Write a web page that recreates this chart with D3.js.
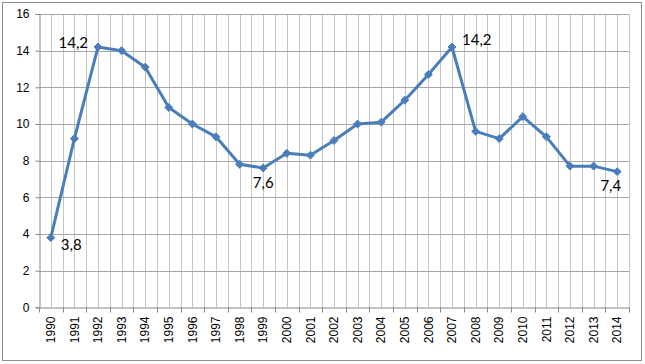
<!DOCTYPE html>
<html><head><meta charset="utf-8">
<script src="https://cdn.jsdelivr.net/npm/d3@7"></script>
<style>body{margin:0;background:#fff}svg{display:block}</style>
</head><body>
<script>
const years = ["1990","1991","1992","1993","1994","1995","1996","1997","1998","1999","2000","2001","2002","2003","2004","2005","2006","2007","2008","2009","2010","2011","2012","2013","2014"];
const values = [3.8,9.2,14.2,14.0,13.1,10.9,10.0,9.3,7.8,7.6,8.4,8.3,9.1,10.0,10.1,11.3,12.7,14.2,9.6,9.2,10.4,9.3,7.7,7.7,7.4];
const yTicks = [0,2,4,6,8,10,12,14,16];
const labeled = [
  {year:"1990", text:"3,8", pos:"br"},
  {year:"1992", text:"14,2", pos:"l"},
  {year:"1999", text:"7,6", pos:"b"},
  {year:"2007", text:"14,2", pos:"r"},
  {year:"2014", text:"7,4", pos:"bl"}
];

const W=645,H=364;
const L=39,R=629,T=14,B=307.3;
const svg=d3.select("body").append("svg").attr("width",W).attr("height",H);
svg.append("rect").attr("x",2.5).attr("y",2.5).attr("width",639).attr("height",358)
  .attr("fill","#fff").attr("stroke","#8c8c8c").attr("stroke-width",1);

const x=d3.scaleBand().domain(years).range([L,R]);
const y=d3.scaleLinear().domain([0,16]).range([B,T]);
const bw=x.bandwidth();

const g=svg.append("g");
const vx=[];
years.forEach(yr=>{vx.push(x(yr)); vx.push(x(yr)+bw/2);});
vx.push(R);
g.selectAll("line.v").data(vx.slice(1)).join("line")
  .attr("x1",d=>Math.round(d)+0.5).attr("x2",d=>Math.round(d)+0.5)
  .attr("y1",T).attr("y2",B).attr("stroke","#c4c4c4").attr("stroke-width",1);
g.selectAll("line.h").data(yTicks.slice(1)).join("line")
  .attr("x1",L).attr("x2",R)
  .attr("y1",d=>Math.round(y(d))+0.5).attr("y2",d=>Math.round(y(d))+0.5)
  .attr("stroke","#a6a6a6").attr("stroke-width",1);

const ya=svg.append("g").attr("transform",`translate(${L+0.5},0)`)
  .call(d3.axisLeft(y).tickValues(yTicks).tickSize(4).tickPadding(6).tickFormat(d3.format("d")));
ya.select(".domain").attr("stroke","#868686");
ya.selectAll(".tick line").attr("stroke","#868686");
ya.selectAll("text").attr("font-family","Liberation Sans, Arial, sans-serif").attr("font-size",12).attr("fill","#000");

const xa=svg.append("g").attr("transform",`translate(0,${Math.round(B)+0.5})`)
  .call(d3.axisBottom(x).tickSize(0).tickSizeOuter(0));
xa.select(".domain").attr("stroke","#868686");
xa.selectAll(".tick text").attr("font-family","Liberation Sans, Arial, sans-serif").attr("font-size",12).attr("fill","#000")
  .attr("transform","rotate(-90)").attr("text-anchor","end").attr("x",-9).attr("y",0).attr("dy","0.35em");
xa.selectAll("line.bt").data(years.map(d=>x(d)).concat([R])).join("line")
  .attr("x1",d=>Math.round(d)+0.5).attr("x2",d=>Math.round(d)+0.5).attr("y1",0).attr("y2",5)
  .attr("stroke","#868686");

const line=d3.line().x((d,i)=>x(years[i])+bw/2).y(d=>y(d));
svg.append("path").datum(values).attr("d",line).attr("fill","none")
  .attr("stroke","#4a7ebb").attr("stroke-width",3).attr("stroke-linejoin","round");
svg.selectAll("path.m").data(values).join("path")
  .attr("d",d3.symbol(d3.symbolDiamond2,40))
  .attr("transform",(d,i)=>`translate(${x(years[i])+bw/2},${y(d)})`)
  .attr("fill","#4a7ebb").attr("stroke","#4a7ebb").attr("stroke-width",1);

const off={br:[10,7,"start"],l:[-10,-4,"end"],b:[0,15,"middle"],r:[10,-7,"start"],bl:[4,14,"end"]};
labeled.forEach(lb=>{
  const i=years.indexOf(lb.year);
  const o=off[lb.pos];
  svg.append("text").attr("x",x(lb.year)+bw/2+o[0]).attr("y",y(values[i])+o[1])
    .attr("dy","0.35em").attr("text-anchor",o[2])
    .attr("font-family","Lato, Open Sans, sans-serif").attr("font-size",15).attr("fill","#000")
    .text(lb.text);
});
</script>
</body></html>
